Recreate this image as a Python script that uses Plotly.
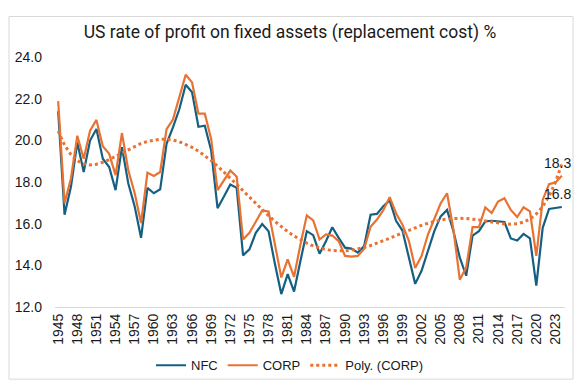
import numpy as np
import plotly.graph_objects as go

years = list(range(1945, 2025))

nfc = [21.4, 16.43, 17.77, 19.9, 18.48, 19.99, 20.54, 19.12, 18.72, 17.61,
       19.67, 17.93, 16.82, 15.32, 17.72, 17.46, 17.65, 19.83, 20.62, 21.49,
       22.67, 22.31, 20.65, 20.70, 19.51, 16.74, 17.30, 17.88, 17.72, 14.48,
       14.77, 15.56, 15.98, 15.64, 14.06, 12.62, 13.58, 12.74, 14.21, 15.64,
       15.45, 14.56, 15.16, 15.83, 15.32, 14.85, 14.80, 14.61, 14.93, 16.43,
       16.47, 16.84, 17.12, 16.14, 15.67, 14.45, 13.11, 13.74, 14.69, 15.64,
       16.35, 16.66, 15.64, 14.37, 13.50, 15.43, 15.64, 16.11, 16.14, 16.11,
       16.08, 15.29, 15.19, 15.51, 15.29, 13.03, 15.80, 16.71, 16.74, 16.8]

corp = [21.88, 16.98, 18.17, 20.22, 19.12, 20.46, 20.98, 19.72, 19.35, 18.33,
        20.35, 18.56, 17.46, 16.03, 18.45, 18.29, 18.48, 20.54, 21.0, 22.04,
        23.15, 22.78, 21.28, 21.28, 20.06, 17.61, 18.09, 18.55, 18.25, 15.24,
        15.56, 16.11, 16.63, 16.59, 15.0, 13.42, 14.29, 13.45, 15.0, 16.40,
        16.16, 15.24, 15.48, 15.43, 15.16, 14.45, 14.42, 14.45, 14.80, 15.85,
        16.2, 16.65, 17.27, 16.5, 15.95, 15.19, 13.87, 14.45, 15.48, 16.27,
        16.98, 17.46, 15.72, 13.31, 13.90, 15.83, 15.83, 16.78, 16.51, 17.06,
        17.22, 16.66, 16.32, 16.79, 16.59, 14.45, 17.14, 17.90, 17.98, 18.3]

tick_years = list(range(1945, 2024, 3))
y_ticks = [12, 14, 16, 18, 20, 22, 24]

title_text = "US rate of profit on fixed assets (replacement cost) %"

# 6th-order polynomial trendline of CORP (as Excel's "Poly." trendline)
xs = np.arange(1, len(years) + 1, dtype=float)
xn = (xs - xs.mean()) / xs.std()
coef = np.polyfit(xn, np.array(corp), 6)
trend = np.polyval(coef, xn)

BLUE = "#156082"
ORANGE = "#E97132"
FONT = "Aptos, Liberation Sans, Arial, sans-serif"
TXT = "#1a1a1a"

fig = go.Figure()
fig.add_trace(go.Scatter(x=years, y=nfc, mode="lines", name="NFC",
                         line=dict(color=BLUE, width=2.2)))
fig.add_trace(go.Scatter(x=years, y=corp, mode="lines", name="CORP",
                         line=dict(color=ORANGE, width=2.2)))
fig.add_trace(go.Scatter(x=years, y=trend, mode="lines", name="Poly. (CORP)",
                         line=dict(color=ORANGE, width=3, dash="dot")))

fig.add_annotation(x=years[-1], y=corp[-1], text=f"{corp[-1]:.1f}", showarrow=False,
                   yshift=13, xshift=-4, font=dict(family=FONT, size=14, color=TXT))
fig.add_annotation(x=years[-1], y=nfc[-1], text=f"{nfc[-1]:.1f}", showarrow=False,
                   yshift=13, xshift=-4, font=dict(family=FONT, size=14, color=TXT))

# chart border
fig.add_shape(type="rect", xref="paper", yref="paper",
              x0=(9 - 55) / 510, x1=(573 - 55) / 510,
              y0=(310 - 383) / 253, y1=(310 - 16) / 253,
              line=dict(color="#D9D9D9", width=1), layer="above")

fig.update_layout(
    width=585, height=392,
    margin=dict(l=55, r=20, t=57, b=82),
    paper_bgcolor="white", plot_bgcolor="white",
    font=dict(family=FONT, size=14, color=TXT),
    title=dict(text=title_text, x=290 / 585, xref="container", xanchor="center",
               y=1 - 32 / 392, yref="container", yanchor="middle",
               font=dict(family="Aptos Narrow, Liberation Sans Narrow, Arial Narrow, Roboto, sans-serif",
                         size=17.5, color=TXT)),
    showlegend=True,
    legend=dict(orientation="h", x=(290 - 55) / 510, xanchor="center",
                y=(310 - 369) / 253, yanchor="middle",
                font=dict(family=FONT, size=13, color=TXT),
                itemwidth=30, bgcolor="rgba(0,0,0,0)"),
    xaxis=dict(range=[1944.5, 2024.5], tickmode="array", tickvals=tick_years,
               ticktext=[str(t) for t in tick_years], tickangle=-90,
               showgrid=False, zeroline=False, showline=True,
               linecolor="#D9D9D9", linewidth=1, ticks="",
               tickfont=dict(family=FONT, size=14, color=TXT)),
    yaxis=dict(range=[12, 24], tickmode="array", tickvals=y_ticks,
               ticktext=[f"{v:.1f}" for v in y_ticks],
               showgrid=False, zeroline=False, showline=False, ticks="",
               ticklabelstandoff=12,
               tickfont=dict(family=FONT, size=14, color=TXT)),
)

fig.write_html("out.html",
               config={"displayModeBar": False},
               post_script="document.body.style.margin='0';document.body.style.padding='0';"
                           "document.body.style.overflow='hidden';")
